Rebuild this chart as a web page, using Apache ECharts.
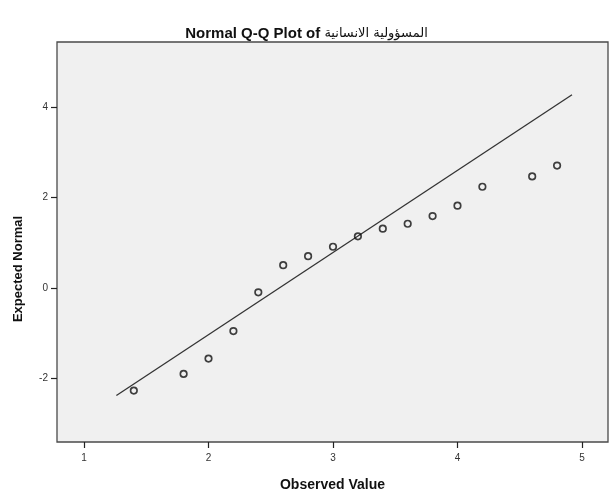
<!DOCTYPE html>
<html>
<head>
<meta charset="utf-8">
<script src="https://cdn.jsdelivr.net/npm/echarts@6/dist/echarts.min.js"></script>
<style>
  html, body { margin: 0; padding: 0; background: #ffffff; }
  #chart { width: 613px; height: 498px; }
</style>
</head>
<body>
<div id="chart"></div>
<script>
// Observed scores and their expected normal values
const observed = [1.4, 1.8, 2.0, 2.2, 2.4, 2.6, 2.8, 3.0, 3.2, 3.4, 3.6, 3.8, 4.0, 4.2, 4.6, 4.8];
const expectedNormal = [-2.28, -1.91, -1.57, -0.96, -0.10, 0.50, 0.70, 0.91, 1.14, 1.31, 1.42, 1.59, 1.82, 2.24, 2.47, 2.71];

// Reference line end points (observed value, expected normal)
const refLineX = [1.26, 4.92];
const refLineY = [-2.39, 4.28];

// Tick labels
const xTicks = [1, 2, 3, 4, 5];
const yTicks = [-2, 0, 2, 4];

const FONT = "'Liberation Sans', Arial, 'DejaVu Sans', sans-serif";
const AR_FONT = "'DejaVu Sans', sans-serif";

const chart = echarts.init(document.getElementById('chart'), null, { renderer: 'canvas' });

chart.setOption({
  animation: false,
  backgroundColor: '#ffffff',
  title: {
    text: '{lat|Normal Q-Q Plot of }{ar|المسؤولية الانسانية}',
    left: 'center',
    top: 21,
    textStyle: {
      rich: {
        lat: { fontFamily: FONT, fontSize: 15, fontWeight: 'bold', color: '#111' },
        ar: { fontFamily: AR_FONT, fontSize: 13, fontWeight: 'normal', color: '#111' }
      }
    }
  },
  grid: {
    left: 57, right: 5, top: 42, bottom: 56,
    show: true,
    backgroundColor: '#f0f0f0',
    borderColor: '#4a4a4a',
    borderWidth: 1.3
  },
  xAxis: {
    type: 'value',
    min: 0.783,
    max: 5.209,
    name: 'Observed Value',
    nameLocation: 'middle',
    nameGap: 36,
    nameTextStyle: { fontFamily: FONT, fontSize: 14, fontWeight: 'bold', color: '#111' },
    axisLine: { show: false, onZero: false },
    axisTick: { show: true, length: 6, customValues: xTicks, lineStyle: { color: '#222', width: 1.2 } },
    axisLabel: { customValues: xTicks, fontFamily: FONT, fontSize: 10, color: '#333', margin: 11 },
    splitLine: { show: false }
  },
  yAxis: {
    type: 'value',
    min: -3.42,
    max: 5.45,
    name: 'Expected Normal',
    nameLocation: 'middle',
    nameGap: 32,
    nameTextStyle: { fontFamily: FONT, fontSize: 13, fontWeight: 'bold', color: '#111', padding: [0, 54, 0, 0] },
    axisLine: { show: false, onZero: false },
    axisTick: { show: true, length: 6, customValues: yTicks, lineStyle: { color: '#222', width: 1.2 } },
    axisLabel: { customValues: yTicks, fontFamily: FONT, fontSize: 10, color: '#333', margin: 9 },
    splitLine: { show: false }
  },
  series: [
    {
      type: 'line',
      data: refLineX.map((x, i) => [x, refLineY[i]]),
      symbol: 'none',
      lineStyle: { color: '#333', width: 1.3 },
      silent: true,
      z: 2
    },
    {
      type: 'scatter',
      data: observed.map((x, i) => [x, expectedNormal[i]]),
      symbol: 'circle',
      symbolSize: 6.5,
      itemStyle: { color: 'rgba(0,0,0,0)', borderColor: '#111', borderWidth: 1.7 },
      z: 3
    }
  ]
});
</script>
</body>
</html>
